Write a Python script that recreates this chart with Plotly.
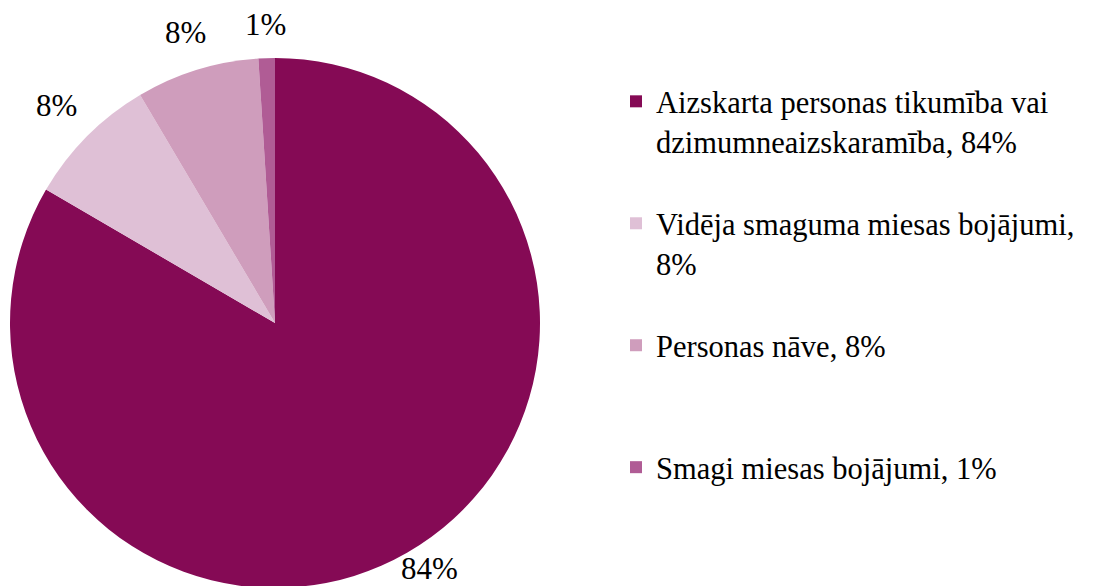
import math
import plotly.graph_objects as go

categories = [
    "Aizskarta personas tikumība vai<br>dzimumneaizskaramība, 84%<br> ",
    "Vidēja smaguma miesas bojājumi,<br>8%<br> ",
    "Personas nāve, 8%<br> <br> ",
    "Smagi miesas bojājumi, 1%",
]
shares = [83.4, 8.1, 7.5, 1.0]
slice_labels = ["84%", "8%", "8%", "1%"]
colors = ["#850A55", "#DFC0D6", "#CF9DBC", "#B05C95"]

W, H = 1098, 586
FONT = "Liberation Serif"
FS = 31
OFF = 8  # page body margin

cx, cy, r = 275 - OFF, 323 - OFF, 265

fig = go.Figure()

fig.add_trace(go.Pie(
    labels=categories,
    values=shares,
    textinfo="none",
    sort=False,
    direction="clockwise",
    rotation=0,
    marker=dict(colors=colors, line=dict(width=0)),
    domain=dict(x=[(cx - r) / W, (cx + r) / W], y=[1 - (cy + r) / H, 1 - (cy - r) / H]),
    showlegend=True,
    hoverinfo="label+percent",
))

# percentage labels just outside each slice, along its bisector
total = sum(shares)
start = 0.0
for val, txt in zip(shares, slice_labels):
    mid = (start + val / 2) / total * 2 * math.pi
    start += val
    s, c = math.sin(mid), math.cos(mid)
    w_box = FS * (0.5 * (len(txt) - 1) + 0.833)
    h_box = FS
    d = r + 18 + abs(s) * w_box / 2 + abs(c) * h_box / 2
    px, py = cx + d * s, cy - d * c
    py = min(py, H - OFF - h_box / 2 - 2)
    fig.add_annotation(
        x=px / W, y=1 - py / H, xref="paper", yref="paper",
        text=txt, showarrow=False, xanchor="center", yanchor="middle",
        font=dict(family=FONT, size=FS, color="#000000"),
    )

fig.update_layout(
    width=W,
    height=H,
    margin=dict(l=0, r=0, t=0, b=0),
    paper_bgcolor="white",
    plot_bgcolor="white",
    legend=dict(
        x=608 / W,
        y=1 - 67 / H,
        xanchor="left",
        yanchor="top",
        valign="top",
        font=dict(family=FONT, size=30.5, color="#000000"),
        itemclick=False,
        bgcolor="rgba(0,0,0,0)",
    ),
)

fig.write_html("out.html")
